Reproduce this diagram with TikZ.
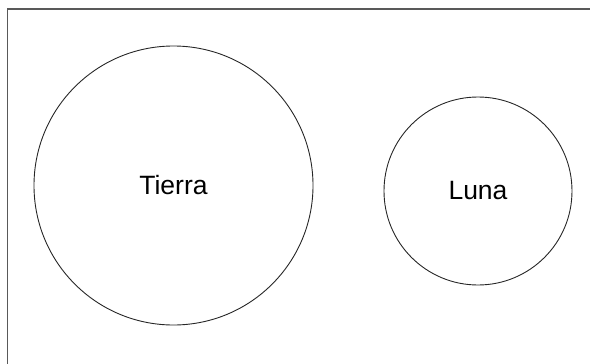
\documentclass[tikz,border=0pt]{standalone}
\usepackage{fontspec}
\setmainfont{Liberation Sans}
\usepackage{tikz}

\begin{document}
\begin{tikzpicture}[x=1pt,y=-1pt,
  body/.style={draw=black!85, line width=0.9pt, circle, inner sep=0pt,
    font=\fontsize{26.5}{30}\selectfont}]
\useasboundingbox (0,0) rectangle (590,364);
\begin{scope}
  \clip (0,0) rectangle (590,364);
  %% frame, only its top and left edges show
  \draw[black!65, line width=1.3pt] (7.5,9) rectangle (620,400);

  %% the two bodies
  \node[body, minimum size=279pt] (tierra) at (173.5,185.5) {Tierra};
  \node[body, minimum size=188pt] (luna) at (478,191) {\raisebox{-4pt}{Luna}};
\end{scope}
\end{tikzpicture}
\end{document}
